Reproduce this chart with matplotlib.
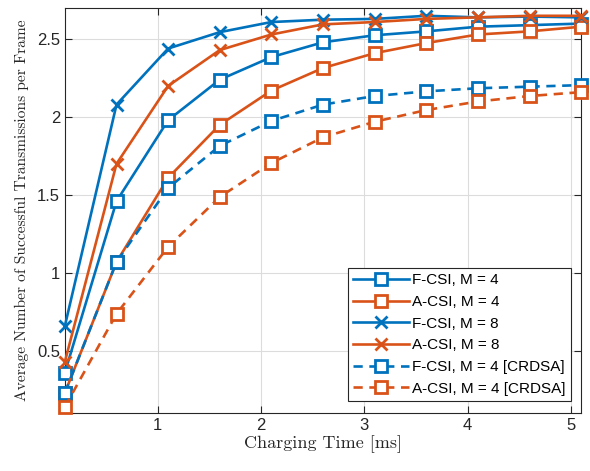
import matplotlib
matplotlib.use("Agg")
import matplotlib.pyplot as plt

# Charging time (ms)
charging_time = [0.1, 0.6, 1.1, 1.6, 2.1, 2.6, 3.1, 3.6, 4.1, 4.6, 5.1]

fcsi_m4 = [0.36, 1.46, 1.98, 2.24, 2.385, 2.48, 2.525, 2.55, 2.58, 2.59, 2.60]
acsi_m4 = [0.23, 1.07, 1.61, 1.95, 2.17, 2.315, 2.41, 2.475, 2.53, 2.55, 2.58]
fcsi_m8 = [0.66, 2.08, 2.44, 2.545, 2.61, 2.625, 2.63, 2.65, 2.64, 2.645, 2.64]
acsi_m8 = [0.43, 1.70, 2.20, 2.43, 2.53, 2.595, 2.61, 2.63, 2.64, 2.65, 2.65]
fcsi_m4_crdsa = [0.23, 1.07, 1.545, 1.815, 1.975, 2.08, 2.135, 2.165, 2.185, 2.195, 2.205]
acsi_m4_crdsa = [0.14, 0.737, 1.167, 1.487, 1.705, 1.87, 1.97, 2.045, 2.10, 2.135, 2.16]

labels = ["F-CSI, M = 4", "A-CSI, M = 4", "F-CSI, M = 8", "A-CSI, M = 8",
          "F-CSI, M = 4 [CRDSA]", "A-CSI, M = 4 [CRDSA]"]
xticks = [1, 2, 3, 4, 5]
yticks = [0.5, 1, 1.5, 2, 2.5]
ytick_labels = ["0.5", "1", "1.5", "2", "2.5"]

blue = "#0072BD"
orange = "#D95319"

plt.rcParams["font.family"] = ["Liberation Sans", "DejaVu Sans"]

fig = plt.figure(figsize=(5.9, 4.71), dpi=100)
ax = fig.add_axes([0.110, 0.123, 0.875, 0.860])

lw = 1.9
ms = 9
dash = (3.5, 2.5)
series = [
    (fcsi_m4, blue, "s", "-"),
    (acsi_m4, orange, "s", "-"),
    (fcsi_m8, blue, "x", "-"),
    (acsi_m8, orange, "x", "-"),
    (fcsi_m4_crdsa, blue, "s", "--"),
    (acsi_m4_crdsa, orange, "s", "--"),
]
for (vals, col, mk, ls), lab in zip(series, labels):
    kw = dict(color=col, lw=lw, marker=mk, ms=ms, mew=2.0,
              mfc="white" if mk == "s" else col, mec=col, label=lab,
              clip_on=False, zorder=3)
    if ls == "--":
        kw["dashes"] = dash
    ax.plot(charging_time, vals, **kw)

ax.set_xlim(0.1, 5.1)
ax.set_ylim(0.1, 2.7)
ax.set_xticks(xticks)
ax.set_xticklabels([str(t) for t in xticks])
ax.set_yticks(yticks)
ax.set_yticklabels(ytick_labels)
ax.tick_params(direction="in", top=True, right=True, labelsize=12,
               length=5, width=0.8, colors="#262626")
for s in ax.spines.values():
    s.set_color("#262626")
    s.set_linewidth(0.8)
ax.grid(True, color="#dcdcdc", lw=0.8)
ax.set_axisbelow(True)

ax.set_xlabel("Charging Time [ms]", fontfamily="cmr10", fontsize=13,
              color="#262626", labelpad=2)
ax.set_ylabel("Average Number of Successful Transmissions per Frame",
              fontfamily="cmr10", fontsize=11.2, color="#262626", labelpad=6)

leg = ax.legend(loc="lower right", bbox_to_anchor=(0.981, 0.030),
                fontsize=11, frameon=True, fancybox=False, framealpha=1,
                edgecolor="#262626", handlelength=3.7, handletextpad=0.2,
                labelspacing=0.5, borderpad=0.35, borderaxespad=0)
leg.get_frame().set_linewidth(0.8)

fig.savefig("out.png", dpi=100)
